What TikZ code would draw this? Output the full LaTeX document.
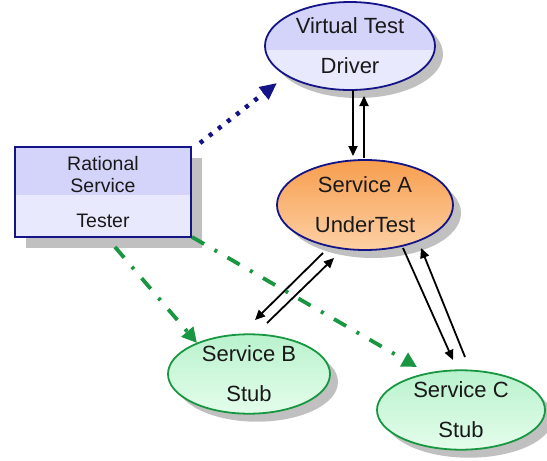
\documentclass[tikz,border=0pt]{standalone}
\usepackage{fontspec}
\setmainfont{Liberation Sans}
\usetikzlibrary{arrows.meta,shapes.geometric,shadows}
\definecolor{navy}{RGB}{20,20,135}
\definecolor{grn}{RGB}{25,150,65}
\definecolor{shadowgrey}{RGB}{192,192,192}
\definecolor{lavtop}{RGB}{212,212,250}
\definecolor{lavbot}{RGB}{233,233,253}
\definecolor{orgtop}{RGB}{247,158,78}
\definecolor{orgbot}{RGB}{253,208,165}
\definecolor{grntop}{RGB}{185,242,205}
\definecolor{grnbot}{RGB}{228,253,235}
\definecolor{txt}{RGB}{25,25,25}
\begin{document}
\begin{tikzpicture}[x=1pt,y=-1pt,
  ell/.style={ellipse, inner sep=0pt, line width=1.8pt, text=txt, align=center,
    font=\fontsize{22}{40}\selectfont,
    drop shadow={fill=shadowgrey, opacity=1, shadow xshift=8pt, shadow yshift=-8pt}},
  lav/.style={draw=navy, fill=lavbot,
    path picture={\fill[lavtop] (path picture bounding box.north west) rectangle ([shift={(0,#1)}]path picture bounding box.east);}},
  org/.style={draw=navy, top color=orgtop, bottom color=orgbot},
  grnfill/.style={draw=grn, top color=grntop, bottom color=grnbot},
  boxstyle/.style={rectangle, inner sep=0pt, line width=1.8pt, text=txt, align=center,
    font=\fontsize{19.5}{22}\selectfont,
    drop shadow={fill=shadowgrey, opacity=1, shadow xshift=11pt, shadow yshift=-11pt}},
  blk/.style={line width=1.8pt, black, -{Triangle[length=10pt,width=9pt]}},
  dotline/.style={navy, line width=4.5pt, dash pattern=on 4pt off 7.5pt,
    -{Triangle[length=17pt,width=15pt]}},
  dashdot/.style={grn, line width=3.8pt, dash pattern=on 14pt off 12pt on 3pt off 12pt,
    -{Triangle[length=15pt,width=15pt]}}
]
\useasboundingbox (0,0) rectangle (547,461);

\node[ell, lav=4, minimum width=170pt, minimum height=88pt] (D) at (350,46) {Virtual Test\\Driver};
\node[ell, org, minimum width=176pt, minimum height=90pt] (A) at (365,205) {Service A\\UnderTest};
\node[ell, grnfill, minimum width=162pt, minimum height=72pt] (B) at (249,374) {Service B\\Stub};
\node[ell, grnfill, minimum width=168pt, minimum height=76pt] (C) at (461,410) {Service C\\Stub};
\node[boxstyle, lav=3, minimum width=176pt, minimum height=90pt] (T) at (103,192) {Rational\\Service\\[13pt]Tester};

% dotted navy arrow tester -> driver
\draw[dotline] ([shift={(97,-49)}]T.center) -- ([shift={(-73,37)}]D.center);

% driver <-> service A
\draw[blk] ([shift={(3,44)}]D.center) -- ([shift={(-12,-49)}]A.center);
\draw[blk] ([shift={(-1,-47)}]A.center) -- ([shift={(14,50)}]D.center);

% service A <-> service B
\draw[blk] ([shift={(-42,48)}]A.center) -- ([shift={(6,-54)}]B.center);
\draw[blk] ([shift={(18,-51)}]B.center) -- ([shift={(-31,53)}]A.center);

% service A <-> service C
\draw[blk] ([shift={(38,43)}]A.center) -- ([shift={(-8,-50)}]C.center);
\draw[blk] ([shift={(4,-53)}]C.center) -- ([shift={(56,43)}]A.center);

% green dash-dot arrows
\draw[dashdot] ([shift={(12,55)}]T.center) -- ([shift={(-52,-31)}]B.center);
\draw[dashdot] ([shift={(89,45)}]T.center) -- ([shift={(-44,-43)}]C.center);
\end{tikzpicture}
\end{document}
